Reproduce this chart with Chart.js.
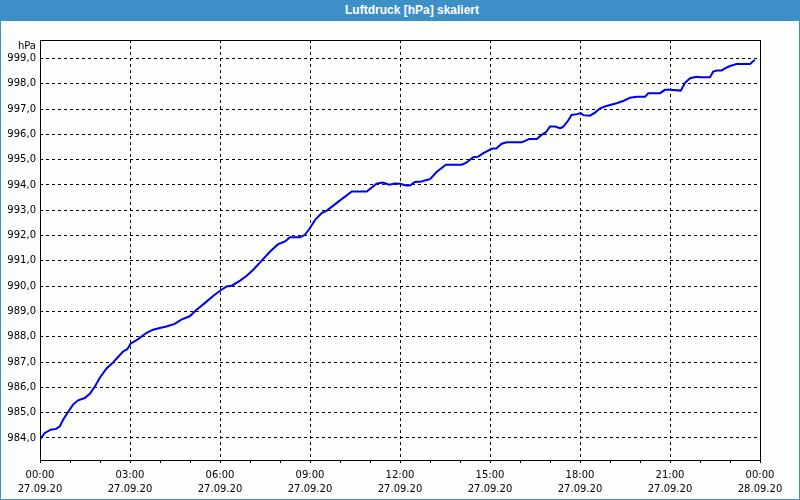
<!DOCTYPE html>
<html>
<head>
<meta charset="utf-8">
<script src="https://cdn.jsdelivr.net/npm/chart.js@4/dist/chart.umd.min.js"></script>
<style>
  html, body { margin: 0; padding: 0; background: #fcfefc; }
  #wrap { position: relative; width: 800px; height: 500px; overflow: hidden; }
  #c { position: absolute; left: 0; top: 0; }
  #titlebar { position: absolute; left: 0; top: 0; width: 800px; height: 21px; background: #3d8fc7; }
  #title { position: absolute; top: 0; left: 412px; transform: translateX(-50%); line-height: 21px; color: #ffffff;
           font-family: "Liberation Sans", "DejaVu Sans", sans-serif; font-weight: bold; font-size: 12px; white-space: nowrap; }
  #frame { position: absolute; left: 0; top: 0; width: 800px; height: 500px; box-sizing: border-box;
           border: 1px solid #3d8fc7; border-top: none; pointer-events: none; }
</style>
</head>
<body>
<div id="wrap">
  <canvas id="c" width="800" height="500"></canvas>
  <div id="titlebar"><div id="title">Luftdruck [hPa] skaliert</div></div>
  <div id="frame"></div>
</div>
<script>
// Data: hours since 27.09.20 00:00 and air pressure in hPa
const hours = [0, 0.16, 0.36, 0.54, 0.66, 0.77, 0.91, 1.1, 1.27, 1.49, 1.66, 1.82, 1.99, 2.21, 2.4, 2.57, 2.77, 2.91,
  3.02, 3.27, 3.54, 3.77, 3.99, 4.21, 4.49, 4.71, 4.99, 5.22, 5.5, 5.78, 6.0, 6.22, 6.39, 6.67, 6.89, 7.11, 7.39, 7.67,
  7.94, 8.17, 8.33, 8.67, 8.83, 9.0, 9.17, 9.39, 9.56, 10.0, 10.17, 10.39, 10.89, 11.06, 11.22, 11.42, 11.64, 11.83,
  12.0, 12.2, 12.33, 12.5, 12.72, 12.89, 13.0, 13.22, 13.53, 14.06, 14.22, 14.44, 14.61, 14.78, 15.06, 15.22, 15.39,
  15.56, 16.06, 16.17, 16.31, 16.56, 16.72, 16.87, 17.0, 17.17, 17.33, 17.42, 17.58, 17.72, 17.91, 18.02, 18.11, 18.33,
  18.5, 18.67, 18.83, 19.0, 19.22, 19.44, 19.67, 19.89, 20.17, 20.28, 20.67, 20.83, 21.0, 21.36, 21.5, 21.67, 21.89,
  22.0, 22.33, 22.44, 22.56, 22.72, 22.83, 23.0, 23.22, 23.67, 23.78, 23.83];
const pressure = [983.94, 984.2, 984.33, 984.36, 984.46, 984.72, 984.98, 985.32, 985.49, 985.58, 985.75, 986.02, 986.37,
  986.74, 986.94, 987.16, 987.42, 987.51, 987.73, 987.91, 988.15, 988.28, 988.35, 988.41, 988.51, 988.68, 988.81, 989.07,
  989.34, 989.62, 989.82, 989.99, 990.02, 990.22, 990.41, 990.65, 991.01, 991.37, 991.66, 991.77, 991.93, 991.93, 992.03,
  992.3, 992.62, 992.89, 992.99, 993.39, 993.54, 993.74, 993.74, 993.9, 994.05, 994.1, 994.01, 994.06, 994.05, 993.98,
  993.98, 994.12, 994.14, 994.2, 994.23, 994.51, 994.8, 994.8, 994.89, 995.1, 995.12, 995.26, 995.43, 995.45, 995.63,
  995.69, 995.69, 995.74, 995.82, 995.82, 995.98, 996.09, 996.31, 996.31, 996.24, 996.28, 996.5, 996.77, 996.8, 996.84,
  996.76, 996.74, 996.86, 997.03, 997.1, 997.16, 997.23, 997.32, 997.45, 997.49, 997.49, 997.63, 997.63, 997.76, 997.76,
  997.73, 998.04, 998.22, 998.28, 998.26, 998.26, 998.48, 998.52, 998.52, 998.61, 998.7, 998.78, 998.78, 998.9, 998.94];

const yTicks = [984, 985, 986, 987, 988, 989, 990, 991, 992, 993, 994, 995, 996, 997, 998, 999];
const xTickHours = [0, 3, 6, 9, 12, 15, 18, 21, 24];
const xTickTimes = ['00:00', '03:00', '06:00', '09:00', '12:00', '15:00', '18:00', '21:00', '00:00'];
const xTickDates = ['27.09.20', '27.09.20', '27.09.20', '27.09.20', '27.09.20', '27.09.20', '27.09.20', '27.09.20', '28.09.20'];
const yUnit = 'hPa';

const points = hours.map((h, i) => ({ x: h, y: pressure[i] }));
const FONT = { family: '"DejaVu Sans", sans-serif', size: 10 };

const framePlugin = {
  id: 'frame',
  afterDatasetsDraw(chart) {
    const { ctx, chartArea: a } = chart;
    ctx.save();
    ctx.strokeStyle = '#000';
    ctx.lineWidth = 1;
    ctx.strokeRect(a.left + 0.5, a.top + 0.5, a.right - a.left, a.bottom - a.top);
    ctx.fillStyle = '#000';
    ctx.font = '10px "DejaVu Sans", sans-serif';
    ctx.textAlign = 'right';
    ctx.textBaseline = 'middle';
    ctx.fillText(yUnit, a.left - 4, a.top + 6);
    ctx.restore();
  }
};

new Chart(document.getElementById('c'), {
  type: 'line',
  data: {
    datasets: [{
      data: points,
      borderColor: '#0000f0',
      borderWidth: 2,
      pointRadius: 0,
      tension: 0,
      fill: false
    }]
  },
  options: {
    responsive: false,
    animation: false,
    layout: { padding: { left: 0, top: 40, right: 40, bottom: 0 } },
    plugins: { legend: { display: false }, tooltip: { enabled: false }, title: { display: false } },
    scales: {
      x: {
        type: 'linear',
        min: 0,
        max: 24,
        afterBuildTicks(scale) {
          const t = [];
          for (let h = 0; h <= 24; h++) t.push({ value: h });
          scale.ticks = t;
        },
        afterFit(scale) { scale.height = 40; },
        border: { display: false, dash: [3, 3] },
        grid: {
          color: (c) => {
            const v = c.tick ? c.tick.value : -1;
            return (v % 3 === 0 && v !== 0 && v !== 24) ? '#000' : 'rgba(0,0,0,0)';
          },
          borderDash: [3, 3],
          lineWidth: 1,
          drawTicks: true,
          tickLength: 3,
          tickColor: '#000',
          tickBorderDash: [],
          tickWidth: 1
        },
        ticks: {
          autoSkip: false,
          maxRotation: 0,
          minRotation: 0,
          padding: 5,
          color: '#000',
          font: { family: FONT.family, size: 10, lineHeight: '14px' },
          callback: (v) => {
            const i = xTickHours.indexOf(v);
            return i >= 0 ? [xTickTimes[i], xTickDates[i]] : '';
          }
        }
      },
      y: {
        type: 'linear',
        min: 983.13,
        max: 999.73,
        afterBuildTicks(scale) { scale.ticks = yTicks.map(v => ({ value: v })); },
        afterFit(scale) { scale.width = 40; },
        border: { display: false, dash: [3, 3] },
        grid: {
          color: '#000',
          borderDash: [3, 3],
          lineWidth: 1,
          drawTicks: false
        },
        ticks: {
          padding: 4,
          color: '#000',
          font: FONT,
          callback: (v) => v.toFixed(1).replace('.', ',')
        }
      }
    }
  },
  plugins: [framePlugin]
});
</script>
</body>
</html>
